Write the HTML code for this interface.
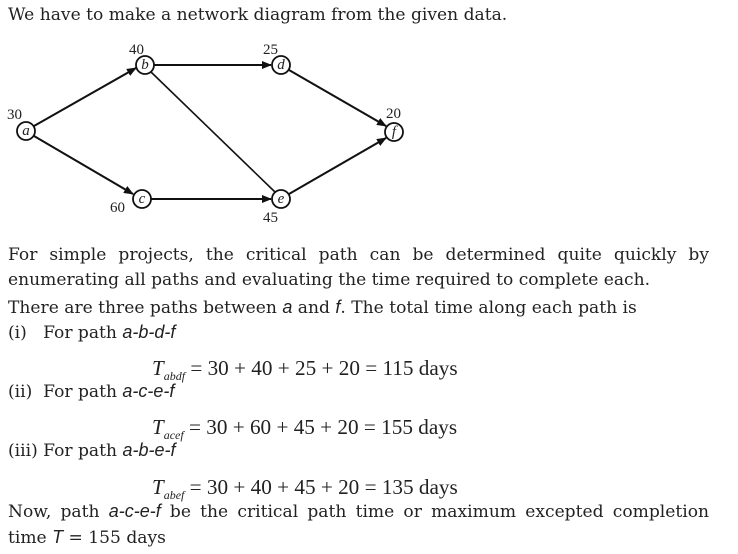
<!DOCTYPE html>
<html><head><meta charset="utf-8"><style>
body{margin:0;width:738px;height:554px;background:#fff;position:relative;overflow:hidden;font-family:"DejaVu Serif",serif;color:#222;}
.l{position:absolute;left:8px;font-size:17.1px;line-height:1;white-space:nowrap;}
.j{width:701px;text-align:justify;text-align-last:justify;white-space:normal;}
i{font-family:"Liberation Sans",sans-serif;font-style:italic;font-size:18px;}
.eq{position:absolute;left:152px;font-family:"Liberation Serif",serif;font-size:21.2px;line-height:1;white-space:nowrap;}
.eq sub{font-size:12px;font-style:italic;}
.eq i{font-family:"Liberation Serif",serif;font-size:21px;}
</style></head><body>
<div class="l" style="top:7px">We have to make a network diagram from the given data.</div>
<svg width="738" height="554" style="position:absolute;left:0;top:0" font-family="Liberation Serif" font-size="15">
<defs><marker id="m" markerWidth="10" markerHeight="8" refX="9" refY="4" orient="auto" markerUnits="userSpaceOnUse"><path d="M0,0 L10,4 L0,8 z" fill="#111"/></marker></defs>
<g stroke="#111" stroke-width="2" fill="none">
<line x1="34" y1="126" x2="136" y2="68" marker-end="url(#m)"/>
<line x1="34" y1="136" x2="133" y2="194" marker-end="url(#m)"/>
<line x1="154" y1="65" x2="271" y2="65" marker-end="url(#m)"/>
<line x1="151" y1="72" x2="275" y2="192" stroke-width="1.6"/>
<line x1="151" y1="199" x2="271" y2="199" marker-end="url(#m)"/>
<line x1="289" y1="70" x2="386" y2="126" marker-end="url(#m)"/>
<line x1="289" y1="194" x2="386" y2="138" marker-end="url(#m)"/>
</g>
<g stroke="#111" stroke-width="1.8" fill="#fff">
<circle cx="26" cy="131" r="9"/><circle cx="145" cy="65" r="9"/><circle cx="281" cy="65" r="9"/>
<circle cx="394" cy="132" r="9"/><circle cx="142" cy="199" r="9"/><circle cx="281" cy="199" r="9"/>
</g>
<g font-style="italic" text-anchor="middle" fill="#222">
<text x="26" y="135">a</text><text x="145" y="69">b</text><text x="281" y="69">d</text>
<text x="394" y="136">f</text><text x="142" y="203">c</text><text x="281" y="203">e</text>
</g>
<g fill="#222">
<text x="7" y="119">30</text><text x="129" y="54">40</text><text x="263" y="54">25</text>
<text x="386" y="118">20</text><text x="110" y="212">60</text><text x="263" y="222">45</text>
</g>
</svg>
<div class="l j" style="top:247px">For simple projects, the critical path can be determined quite quickly by</div>
<div class="l" style="top:272px">enumerating all paths and evaluating the time required to complete each.</div>
<div class="l" style="top:298px">There are three paths between <i>a</i> and <i>f</i>. The total time along each path is</div>
<div class="l" style="top:323px">(i)&nbsp;&nbsp; For path <i>a-b-d-f</i></div>
<div class="eq" style="top:358px"><i>T</i><sub>abdf</sub> = 30 + 40 + 25 + 20 = 115 days</div>
<div class="l" style="top:382px">(ii)&nbsp; For path <i>a-c-e-f</i></div>
<div class="eq" style="top:417px"><i>T</i><sub>acef</sub> = 30 + 60 + 45 + 20 = 155 days</div>
<div class="l" style="top:441px">(iii) For path <i>a-b-e-f</i></div>
<div class="eq" style="top:477px"><i>T</i><sub>abef</sub> = 30 + 40 + 45 + 20 = 135 days</div>
<div class="l j" style="top:502px">Now, path <i>a-c-e-f</i> be the critical path time or maximum excepted completion</div>
<div class="l" style="top:528px">time <i>T</i> = 155 days</div>
</body></html>
